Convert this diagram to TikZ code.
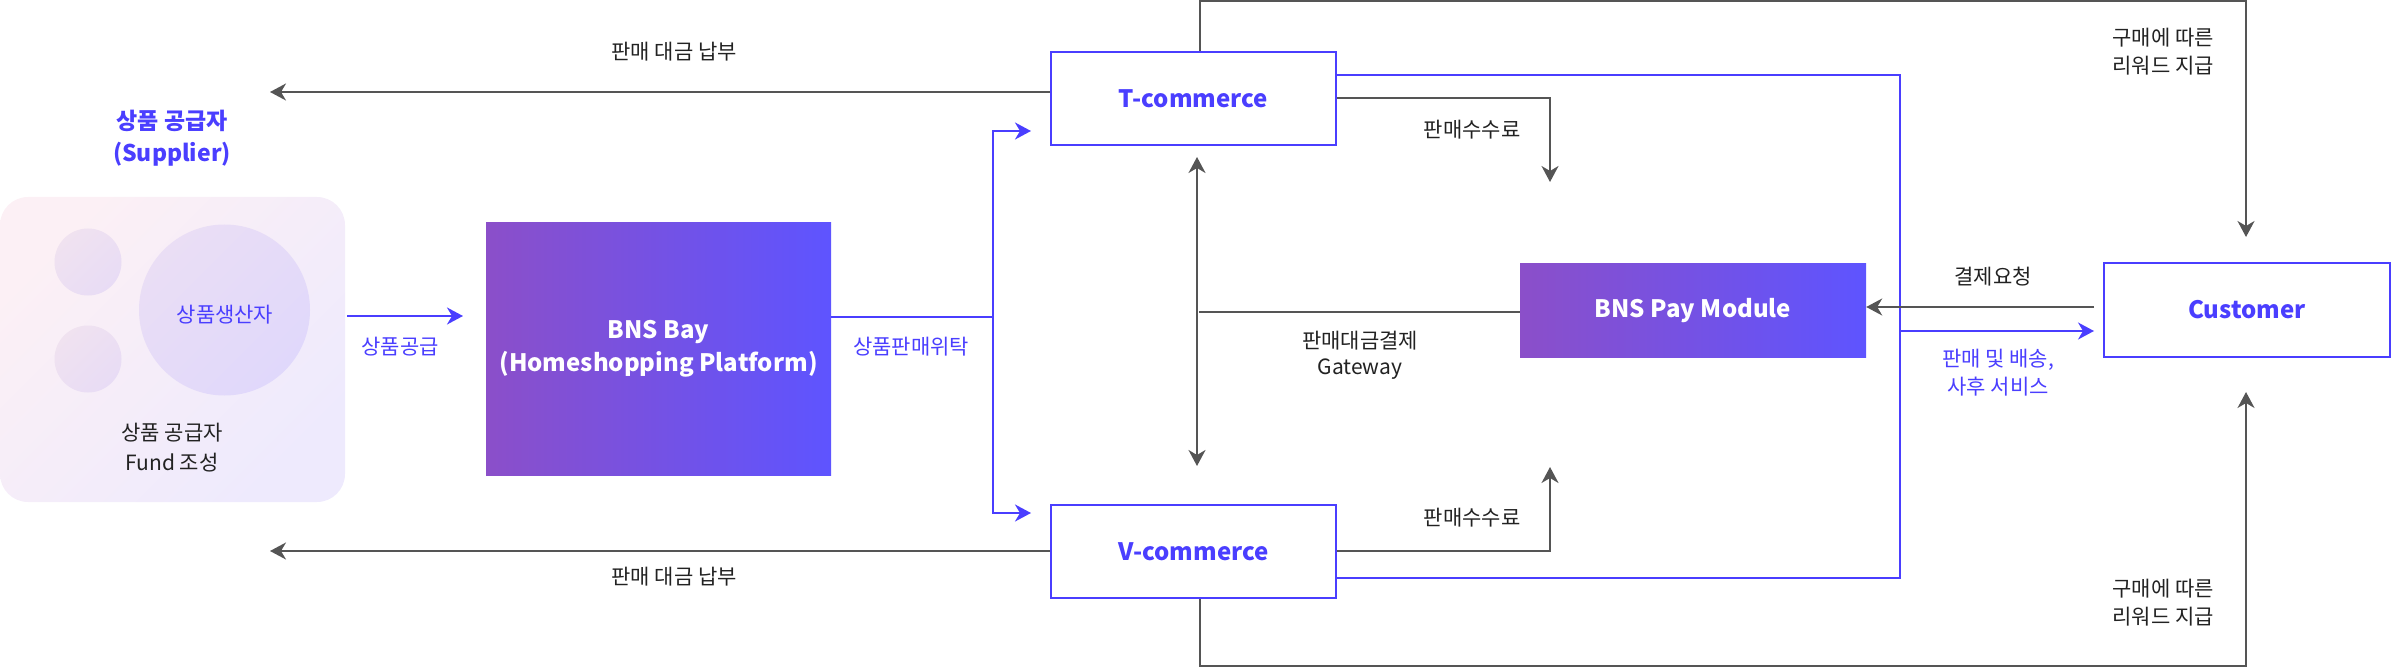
\documentclass[tikz,border=0pt]{standalone}
\usepackage{fontspec}
\setmainfont{Noto Sans CJK KR}
\usetikzlibrary{arrows.meta,calc}
\definecolor{bl}{RGB}{74,62,255}
\definecolor{gr}{RGB}{85,85,85}
\definecolor{txt}{RGB}{34,34,34}
\definecolor{pl}{RGB}{139,79,201}
\definecolor{pr}{RGB}{94,84,255}
\definecolor{sbA}{RGB}{252,240,245}
\definecolor{sbB}{RGB}{238,234,253}
\definecolor{scA}{RGB}{240,226,240}
\definecolor{scB}{RGB}{232,220,245}
\definecolor{bcA}{RGB}{234,222,245}
\definecolor{bcB}{RGB}{224,216,251}
\tikzset{
  gline/.style={draw=gr, line width=2pt},
  garrow/.style={gline, -{Stealth[length=16pt,width=17pt,inset=5pt]}},
  gdouble/.style={gline, {Stealth[length=16pt,width=17pt,inset=5pt]}-{Stealth[length=16pt,width=17pt,inset=5pt]}},
  bline/.style={draw=bl, line width=2pt},
  barrow/.style={bline, -{Stealth[length=16pt,width=17pt,inset=5pt]}},
  lbl/.style={font=\fontsize{21}{28}\selectfont, text=txt, align=center, inner sep=0pt},
  blbl/.style={lbl, text=bl},
  whitebox/.style={draw=bl, line width=2pt, fill=white, minimum width=285pt, minimum height=93pt, font=\bfseries\fontsize{24}{30}\selectfont, text=bl, inner sep=0pt},
  gradbox/.style={left color=pl, right color=pr, draw=none, font=\bfseries\fontsize{24}{33}\selectfont, text=white, align=center, inner sep=0pt},
  supbox/.style={rectangle, rounded corners=28pt, draw=none, top color=sbA, bottom color=sbB, shading angle=45, minimum width=345pt, minimum height=305pt, inner sep=0pt},
  smallc/.style={circle, draw=none, top color=scA, bottom color=scB, shading angle=45, minimum size=67pt, inner sep=0pt},
  bigc/.style={circle, draw=none, top color=bcA, bottom color=bcB, shading angle=45, minimum size=171pt, inner sep=0pt},
}
\begin{document}
\begin{tikzpicture}[x=1pt,y=-1pt]
\useasboundingbox (0,0) rectangle (2392,668);
% supplier
\node[supbox] (sup) at (172.5,349.5) {};
\node[smallc] (c1) at (88,262) {};
\node[smallc] (c2) at (88,359) {};
\node[bigc] (c3) at (224.5,310) {};
\node[blbl] (prod) at (225,315) {상품생산자};
\node[lbl, font=\fontsize{21}{30}\selectfont] (fund) at (172,448) {상품 공급자\\Fund 조성};
\node[blbl, font=\bfseries\fontsize{23}{32}\selectfont] (suptitle) at (172,138) {상품 공급자\\(Supplier)};
% main boxes
\node[gradbox, minimum width=345pt, minimum height=252pt] (bay) at (658.5,349) {BNS Bay\\(Homeshopping Platform)};
\node[whitebox] (T) at (1193.5,98.5) {T-commerce};
\node[whitebox] (V) at (1193.5,551.5) {V-commerce};
\node[gradbox, minimum width=346pt, minimum height=93pt] (pay) at (1693,310.5) {BNS Pay Module};
\node[whitebox, minimum width=286pt] (cust) at (2247,310) {Customer};
% supply
\coordinate (supA) at (347,316);
\coordinate (supB) at (463,316);
\draw[barrow] (supA) -- (supB);
\node[blbl] (supply) at (400,347) {상품공급};
% consignment
\coordinate (split) at (993,317);
\coordinate (toT) at (1031,131);
\coordinate (toV) at (1031,513);
\draw[bline] (bay.east |- split) -- (split);
\draw[barrow] (split) |- (toT);
\draw[barrow] (split) |- (toV);
\node[blbl] (consign) at (911,347) {상품판매위탁};
% payment to supplier
\coordinate (payTip1) at (270,92);
\draw[garrow] (T.west |- payTip1) -- (payTip1);
\node[lbl] (pay1) at (674,52) {판매 대금 납부};
\coordinate (payTip2) at (270,551);
\draw[garrow] (V.west |- payTip2) -- (payTip2);
\node[lbl] (pay2) at (674,577) {판매 대금 납부};
% rewards
\coordinate (rwTL) at (1200,1.5);
\coordinate (rwTR) at (2246,1.5);
\coordinate (rwTtip) at (2246,237);
\draw[garrow] (T.north -| rwTL) -- (rwTL) -- (rwTR) -- (rwTtip);
\node[lbl] (rw1) at (2163,52) {구매에 따른\\리워드 지급};
\coordinate (rwBL) at (1200,665.5);
\coordinate (rwBR) at (2246,665.5);
\coordinate (rwBtip) at (2246,392);
\draw[garrow] (V.south -| rwBL) -- (rwBL) -- (rwBR) -- (rwBtip);
\node[lbl] (rw2) at (2163,603) {구매에 따른\\리워드 지급};
% sales & delivery bracket
\coordinate (brT) at (1900,75);
\coordinate (brB) at (1900,578);
\draw[bline] (T.east |- brT) -- (brT) -- (brB) -- (V.east |- brB);
\coordinate (svcS) at (1900,331);
\coordinate (svcE) at (2094,331);
\draw[barrow] (svcS) -- (svcE);
\node[blbl] (svc) at (1998,373) {판매 및 배송,\\사후 서비스};
% payment request
\coordinate (reqS) at (2094,307);
\draw[garrow] (reqS) -- (pay.east |- reqS);
\node[lbl] (req) at (1993,277) {결제요청};
% commissions
\coordinate (cmT) at (1550,98);
\coordinate (cmTtip) at (1550,182);
\draw[garrow] (T.east |- cmT) -- (cmT) -- (cmTtip);
\node[lbl] (cm1) at (1472,130) {판매수수료};
\coordinate (cmV) at (1550,551);
\coordinate (cmVtip) at (1550,467);
\draw[garrow] (V.east |- cmV) -- (cmV) -- (cmVtip);
\node[lbl] (cm2) at (1472,518) {판매수수료};
% gateway
\coordinate (gwT) at (1197,157);
\coordinate (gwB) at (1197,466);
\coordinate (gwM) at (1199,312);
\draw[gdouble] (gwT) -- (gwB);
\draw[gline] (pay.west |- gwM) -- (gwM);
\node[lbl, font=\fontsize{21}{26}\selectfont] (gw) at (1360,355) {판매대금결제\\Gateway};
\end{tikzpicture}
\end{document}
